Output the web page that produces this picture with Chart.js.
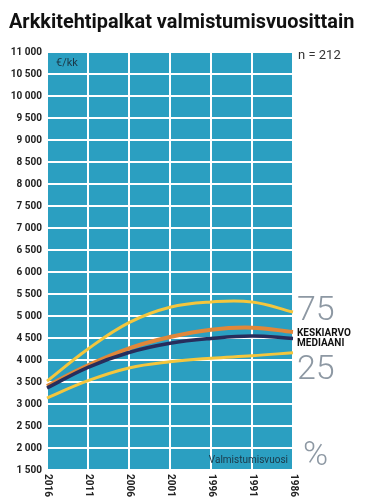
<!DOCTYPE html>
<html>
<head>
<meta charset="utf-8">
<script src="https://cdn.jsdelivr.net/npm/chart.js@4/dist/chart.umd.min.js"></script>
<style>
    html, body { margin: 0; padding: 0; background: #fff; }
    #wrap { position: relative; width: 370px; height: 504px; }
</style>
</head>
<body>
<div id="wrap"><canvas id="palkatChart" width="370" height="504"></canvas></div>
<script>
const years = ['2016', '2011', '2006', '2001', '1996', '1991', '1986'];
const q75 = [3520, 4250, 4850, 5200, 5320, 5320, 5090];
const keskiarvo = [3410, 3880, 4266, 4523, 4690, 4735, 4636];
const mediaani = [3364, 3834, 4170, 4380, 4490, 4545, 4490];
const q25 = [3136, 3530, 3820, 3960, 4040, 4095, 4166];

const plotBlue = '#2b9fc1';
const yellow = '#f4c63d';
const orange = '#e0873a';
const navy = '#272d5c';
const greyLabel = '#8d98a3';

const fmt = v => String(v).replace(/\B(?=(\d{3})+(?!\d))/g, ' ');

const decorPlugin = {
    id: 'decor',
    beforeDraw(chart) {
        const { ctx, chartArea: a } = chart;
        ctx.save();
        ctx.fillStyle = plotBlue;
        ctx.fillRect(a.left, a.top, a.right - a.left, a.bottom - a.top);
        ctx.restore();
    },
    afterDraw(chart) {
        const { ctx, chartArea: a } = chart;
        const xs = chart.scales.x;
        const ys = chart.scales.y;
        ctx.save();

        // title, sized to span the same width as the original
        const title = 'Arkkitehtipalkat valmistumisvuosittain';
        ctx.fillStyle = '#111';
        ctx.font = 'bold 20px Roboto, "DejaVu Sans", sans-serif';
        const w20 = ctx.measureText(title).width;
        const size = Math.min(22, 20 * 346 / w20);
        ctx.font = 'bold ' + size.toFixed(1) + 'px Roboto, "DejaVu Sans", sans-serif';
        ctx.textBaseline = 'alphabetic';
        ctx.textAlign = 'left';
        ctx.fillText(title, 9, 28);

        // x labels, reading downwards
        ctx.font = 'bold 10px Roboto, sans-serif';
        ctx.fillStyle = '#222';
        years.forEach((y, i) => {
            const px = xs.getPixelForValue(i);
            ctx.save();
            ctx.translate(px, a.bottom + 4);
            ctx.rotate(Math.PI / 2);
            ctx.textAlign = 'left';
            ctx.textBaseline = 'middle';
            ctx.fillText(y, 0, 0);
            ctx.restore();
        });

        // small texts
        ctx.font = '13px Roboto, sans-serif';
        ctx.fillStyle = '#333';
        ctx.textBaseline = 'middle';
        ctx.fillText('n = 212', a.right + 5, a.top + 4);

        ctx.font = '11px Roboto, sans-serif';
        ctx.fillStyle = '#1b3747';
        ctx.fillText('€/kk', a.left + 9, a.top + 11);
        ctx.font = '10px Roboto, sans-serif';
        ctx.textAlign = 'right';
        ctx.fillText('Valmistumisvuosi', a.right - 5, a.bottom - 10);

        // series labels on the right
        const last = years.length - 1;
        ctx.textAlign = 'left';
        ctx.fillStyle = greyLabel;
        ctx.font = '300 34px Roboto, "Open Sans", sans-serif';
        ctx.fillText('75', a.right + 4, ys.getPixelForValue(q75[last]) - 1);
        ctx.fillText('25', a.right + 4, ys.getPixelForValue(q25[last]) + 18);
        ctx.fillText('%', a.right + 10, a.bottom - 14);

        ctx.fillStyle = '#111';
        ctx.font = 'bold 10px Roboto, sans-serif';
        ctx.fillText('KESKIARVO', a.right + 4, ys.getPixelForValue(keskiarvo[last]) + 1);
        ctx.fillText('MEDIAANI', a.right + 4, ys.getPixelForValue(mediaani[last]) + 5);

        ctx.restore();
    }
};

const ctx = document.getElementById('palkatChart').getContext('2d');
const palkatChart = new Chart(ctx, {
    type: 'line',
    data: {
        labels: years,
        datasets: [
            { label: 'Mediaani', data: mediaani, borderColor: navy, borderWidth: 3.5, order: 1 },
            { label: 'Keskiarvo', data: keskiarvo, borderColor: orange, borderWidth: 4, order: 2 },
            { label: '75', data: q75, borderColor: yellow, borderWidth: 3, order: 3 },
            { label: '25', data: q25, borderColor: yellow, borderWidth: 3, order: 4 }
        ]
    },
    options: {
        responsive: false,
        animation: false,
        devicePixelRatio: 1,
        layout: { padding: { top: 52, right: 77, bottom: 34, left: 0 } },
        elements: {
            point: { radius: 0 },
            line: { tension: 0.4, fill: false, borderCapStyle: 'butt' }
        },
        plugins: {
            legend: { display: false },
            tooltip: { enabled: false },
            title: { display: false }
        },
        scales: {
            x: {
                type: 'category',
                offset: false,
                grid: { color: '#fff', lineWidth: 2, drawTicks: false },
                border: { display: false },
                ticks: { display: false },
                afterFit: s => { s.height = 0; }
            },
            y: {
                min: 1500,
                max: 11000,
                grid: { color: '#fff', lineWidth: 2, drawTicks: false },
                border: { display: false },
                ticks: {
                    stepSize: 500,
                    autoSkip: false,
                    padding: 5,
                    color: '#222',
                    font: { family: 'Roboto', size: 10, weight: 'bold' },
                    callback: v => fmt(v)
                },
                afterFit: s => { s.width = 47; }
            }
        }
    },
    plugins: [decorPlugin]
});
</script>
</body>
</html>
